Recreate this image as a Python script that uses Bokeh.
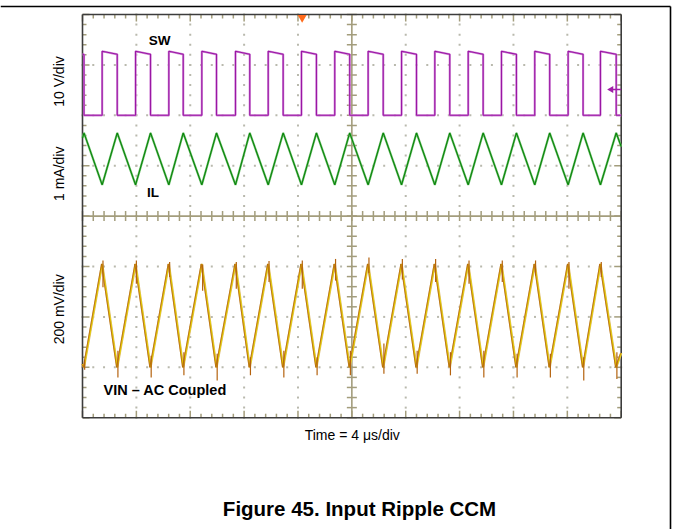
import math
from bokeh.plotting import figure
from bokeh.models import Range1d
from bokeh.core.properties import value
from bokeh.embed import file_html
from bokeh.resources import INLINE

# ---------------- data (read from the scope capture) ----------------
# time axis: 4 us/div, 10 divisions ; vertical: divisions 0..8 (bottom..top)
sw_rise = [1.46, 3.94, 6.41, 8.86, 11.36, 13.79, 16.26, 18.73, 21.21, 23.69,
           26.16, 28.64, 31.11, 33.58, 36.06, 38.46]
sw_fall = [0.11, 2.58, 5.05, 7.48, 9.95, 12.42, 14.90, 17.37, 19.84, 22.33,
           24.80, 27.27, 29.75, 32.22, 34.69, 37.17, 39.63]
sw_high_start = 7.27
sw_high_end = 7.21
sw_low = 6.0

il_peak = 5.65
il_trough = 4.62
il_start = 5.55
il_end = 5.38

vin_peak = 3.05
vin_trough = 1.0
vin_start = 1.06
vin_end = 1.28
vin_peak_spike_top = [3.12, 3.12, 3.09, 3.04, 3.09, 3.11, 3.12, 3.15,
                      3.18, 3.15, 3.15, 3.12, 3.12, 3.12, 3.09, 3.09]
vin_peak_spike_low = [2.59, 2.66, 2.79, 2.52, 2.56, 2.69, 2.56, 2.72,
                      2.87, 2.74, 2.69, 2.66, 2.69, 2.82, 2.56, 2.79]
vin_trough_spike_low = [0.95, 0.80, 0.80, 0.84, 0.74, 0.84, 0.80, 0.84, 0.84,
                        0.87, 0.87, 0.84, 0.80, 0.80, 0.80, 0.74, 0.77]
vin_trough_spike_high = [1.15, 1.33, 1.23, 1.30, 1.27, 1.20, 1.33, 1.20, 1.33,
                         1.47, 1.33, 1.30, 1.33, 1.27, 1.27, 1.20, 1.30]

x_major = [0, 4, 8, 12, 16, 20, 24, 28, 32, 36, 40]
y_major = [0, 1, 2, 3, 4, 5, 6, 7, 8]

# ---------------- styles / layout ----------------
KHAKI = "#a39d7c"
DOT = "#b9b9ad"
EDGE = "#3c3c3c"
FONT = "Liberation Sans"

W, H = 673, 529
PX_US = 538.7 / 40.0      # pixels per microsecond
PX_DIV = 403.2 / 8.0      # pixels per division
LEFT_PX, BOTTOM_PX = 82.0, 417.2

x_lo = -LEFT_PX / PX_US
x_hi = (W - LEFT_PX) / PX_US
y_hi = BOTTOM_PX / PX_DIV
y_lo = (BOTTOM_PX - H) / PX_DIV

def xpx(n):  # pixel length -> us
    return n / PX_US

def ypx(n):  # pixel length -> div
    return n / PX_DIV

x_minor = [round(i * 0.8, 3) for i in range(51)]
y_minor = [round(i * 0.2, 3) for i in range(41)]

p = figure(width=W, height=H, x_range=Range1d(x_lo, x_hi), y_range=Range1d(y_lo, y_hi),
           output_backend="svg", toolbar_location=None,
           x_axis_type=None, y_axis_type=None,
           min_border=0, min_border_left=0, min_border_right=0,
           min_border_top=0, min_border_bottom=0)
p.outline_line_color = None
p.background_fill_color = "white"
p.border_fill_color = "white"

# dotted graticule
dx, dy = [], []
for gx in x_major[1:-1]:
    if gx == 20:
        continue
    for yy in y_minor:
        dx.append(gx); dy.append(yy)
for gy in y_major[1:-1]:
    if gy == 4:
        continue
    for xx in x_minor:
        dx.append(xx); dy.append(gy)
p.scatter(dx, dy, marker="square", size=2, fill_color=DOT, line_color=None)

# edge ticks (inward)
ex0, ey0, ex1, ey1 = [], [], [], []
for xx in x_minor:
    L = 7 if xx in x_major else 4
    ex0 += [xx, xx]; ex1 += [xx, xx]
    ey0 += [8, 0]; ey1 += [8 - ypx(L), ypx(L)]
for yy in y_minor:
    L = 7 if yy in y_major else 4
    ey0 += [yy, yy]; ey1 += [yy, yy]
    ex0 += [0, 40]; ex1 += [xpx(L), 40 - xpx(L)]
p.segment(x0=ex0, y0=ey0, x1=ex1, y1=ey1, line_color=KHAKI, line_width=1.5)

# center cross with ticks
p.segment(x0=[0, 20], y0=[4, 0], x1=[40, 20], y1=[4, 8], line_color=KHAKI, line_width=1.6)
p.segment(x0=x_minor, y0=[4 - ypx(5)] * len(x_minor), x1=x_minor, y1=[4 + ypx(5)] * len(x_minor),
          line_color=KHAKI, line_width=1.5)
p.segment(x0=[20 - xpx(5)] * len(y_minor), y0=y_minor, x1=[20 + xpx(5)] * len(y_minor), y1=y_minor,
          line_color=KHAKI, line_width=1.5)

# graticule border
p.segment(x0=[0, 0, 0, 40], y0=[0, 8, 0, 0], x1=[40, 40, 0, 40], y1=[0, 8, 8, 8],
          line_color=EDGE, line_width=1.6)

# ---------------- SW trace ----------------
sx, sy = [0], [sw_high_end]
for i, f in enumerate(sw_fall):
    sx += [f, f]; sy += [sw_high_end, sw_low]
    if i < len(sw_rise):
        r = sw_rise[i]
        sx += [r, r]; sy += [sw_low, sw_high_start]
sx.append(40); sy.append(sw_low)
p.line(sx, sy, line_color="#d28ad8", line_width=2.2)
p.line(sx, sy, line_color="#9a16a4", line_width=1.1)

# ---------------- IL trace ----------------
ix, iy = [0], [il_start]
for i, f in enumerate(sw_fall):
    ix.append(f); iy.append(il_peak)
    if i < len(sw_rise):
        ix.append(sw_rise[i]); iy.append(il_trough)
ix.append(40); iy.append(il_end)
p.line(ix, iy, line_color="#74c474", line_width=2.2)
p.line(ix, iy, line_color="#0b840b", line_width=1.1)

# ---------------- VIN trace ----------------
vx, vy = [0], [vin_start]
for i, f in enumerate(sw_fall):
    vx.append(f); vy.append(vin_trough)
    if i < len(sw_rise):
        vx.append(sw_rise[i]); vy.append(vin_peak)
vx.append(40); vy.append(vin_end)
p.line(vx, vy, line_color="#dcbc78", line_width=2.4)
p.line(vx, vy, line_color="#e6d200", line_width=1.4)
p.line([v - 0.05 for v in vx], vy, line_color="#b4620e", line_width=0.8)
# switching spikes
p.segment(x0=[r + 0.06 for r in sw_rise], y0=vin_peak_spike_low,
          x1=[r + 0.06 for r in sw_rise], y1=vin_peak_spike_top,
          line_color="#b4620e", line_width=1.2)
p.segment(x0=[f + 0.05 for f in sw_fall], y0=vin_trough_spike_low,
          x1=[f + 0.05 for f in sw_fall], y1=vin_trough_spike_high,
          line_color="#b4620e", line_width=1.2)

# markers: trigger (top) and SW channel marker (right)
p.scatter([16.31], [8 - ypx(3)], marker="inverted_triangle", size=9,
          fill_color="#ff6a1a", line_color=None)
p.scatter([40 - xpx(10)], [6.51], marker="triangle", angle=math.pi / 2, size=7,
          fill_color="#a020a8", line_color=None)
p.segment(x0=[40 - xpx(9)], y0=[6.51], x1=[40], y1=[6.51], line_color="#a020a8", line_width=1.5)

# ---------------- labels ----------------
def txt(x, y, s, size, bold=False, angle=0.0):
    p.text(x=[x], y=[y], text=[s], text_font=value(FONT),
           text_font_style="bold" if bold else "normal", text_font_size=size,
           text_align="center", text_baseline="middle", text_color="black", angle=angle)

txt(5.72, 7.49, "SW", "13.5px", bold=True)
txt(5.23, 4.46, "IL", "13.5px", bold=True)
txt(6.14, 0.55, "VIN \u2013 AC Coupled", "14.5px", bold=True)

txt(-1.71, 6.67, "10 V/div", "14px", angle=math.pi / 2)
txt(-1.71, 4.84, "1 mA/div", "14px", angle=math.pi / 2)
txt(-1.71, 2.15, "200 mV/div", "14px", angle=math.pi / 2)
txt(20.03, -0.34, "Time = 4 \u03bcs/div", "14px")
txt(20.57, -1.80, "Figure 45. Input Ripple CCM", "20.5px", bold=True)

# page frame lines (top and right)
top_y = (BOTTOM_PX - 6) / PX_DIV
right_x = (670 - LEFT_PX) / PX_US
p.segment(x0=[x_lo, right_x], y0=[top_y, top_y], x1=[right_x, right_x], y1=[top_y, y_lo],
          line_color="black", line_width=1.6)

open("out.html", "w").write(file_html(p, INLINE))
